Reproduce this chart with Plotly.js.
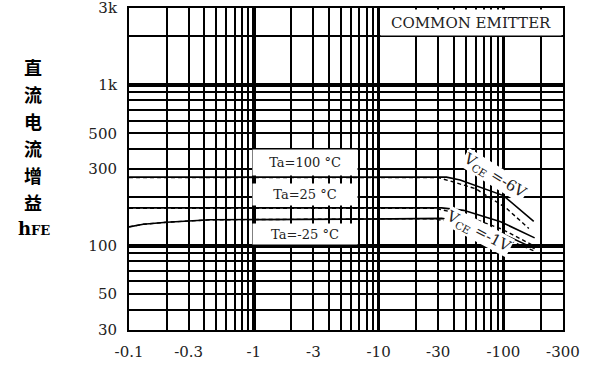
<!DOCTYPE html>
<html><head><meta charset="utf-8">
<script src="https://cdn.plot.ly/plotly-3.0.1.min.js"></script>
<style>html,body{margin:0;padding:0;background:#fff}#chart{width:591px;height:367px}</style>
</head><body><div id="chart"></div>
<script>
// Collector current magnitude (mA); axis labels carry the negative sign
const xTickVals = [0.1, 0.3, 1, 3, 10, 30, 100, 300];
const xTickText = ["-0.1", "-0.3", "-1", "-3", "-10", "-30", "-100", "-300"];
const yTickVals = [30, 50, 100, 300, 500, 1000, 3000];
const yTickText = ["30", "50", "100", "300", "500", "1k", "3k"];
const xDecades = [0.1, 1, 10, 100];
const yDecades = [100, 1000];
const yTitleChars = ["直", "流", "电", "流", "增", "益"];

// Ta = 100 °C
const ic_ta100_v6  = [0.1, 1, 10, 35, 45, 65, 100, 175];
const hfe_ta100_v6 = [267, 267, 267, 267, 256, 232, 205, 142];
const ic_ta100_v1  = [0.1, 1, 10, 30, 40, 60, 105, 160];
const hfe_ta100_v1 = [265, 265, 265, 265, 249, 226, 172, 128];
// Ta = 25 °C
const ic_ta25_v6  = [0.1, 1, 10, 32, 48, 95, 178];
const hfe_ta25_v6 = [172, 172, 172, 172, 166, 141, 112];
const ic_ta25_v1  = [0.1, 1, 10, 28, 45, 97, 175];
const hfe_ta25_v1 = [171, 171, 171, 171, 158, 127, 100];
// Ta = -25 °C
const ic_tam25_v6  = [0.1, 0.13, 0.2, 0.45, 13, 32, 45, 97, 178];
const hfe_tam25_v6 = [131, 136, 140, 145, 147, 148, 142, 119, 96];
const ic_tam25_v1  = [0.1, 0.13, 0.2, 0.45, 13, 28, 45, 97, 175];
const hfe_tam25_v1 = [131, 136, 140, 145, 147, 147, 136, 113, 93];

const SERIF = "DejaVu Serif, Liberation Serif, serif";
const xRange = [Math.log10(0.1) - 0.0005, Math.log10(300) + 0.0005];
const yRange = [Math.log10(30) - 0.0005, Math.log10(3000) + 0.0005];

function curve(x, y, dashed) {
  return {x: x, y: y, type: 'scatter', mode: 'lines', hoverinfo: 'skip',
    line: {color: '#000', width: dashed ? 1.4 : 1.6, dash: dashed ? '4px,3px' : 'solid'}};
}

const data = [
  curve(ic_ta100_v6, hfe_ta100_v6, false),
  curve(ic_ta100_v1, hfe_ta100_v1, true),
  curve(ic_ta25_v6, hfe_ta25_v6, false),
  curve(ic_ta25_v1, hfe_ta25_v1, true),
  curve(ic_tam25_v6, hfe_tam25_v6, false),
  curve(ic_tam25_v1, hfe_tam25_v1, true),
  {x: [], y: [], xaxis: 'x2', yaxis: 'y2', type: 'scatter', mode: 'lines', hoverinfo: 'skip'}
];

const gridAxis = {type: 'log', showgrid: true, gridcolor: '#000', gridwidth: 2,
  minor: {dtick: 'D1', showgrid: true, gridcolor: '#000', gridwidth: 2, ticks: ''},
  showline: true, linecolor: '#000', linewidth: 2, mirror: true, ticks: '', zeroline: false,
  ticklabeloverflow: 'allow',
  tickmode: 'array', tickfont: {family: SERIF, size: 15, color: '#222'}};

// vertical y-axis title, one character per line
const yTitleY = [67, 94, 121, 148, 175, 202];
const titleAnns = yTitleChars.map(function (ch, i) {
  return {xref: 'paper', yref: 'paper', x: -0.221, y: (330 - yTitleY[i]) / 322, xanchor: 'center', yanchor: 'middle',
    text: ch, showarrow: false,
    font: {family: 'Noto Sans CJK SC', size: 18, color: '#000', weight: 'bold'}};
});

const layout = {
  width: 591, height: 367,
  margin: {l: 129, r: 28, t: 8, b: 37, pad: 0},
  paper_bgcolor: '#fff', plot_bgcolor: '#fff', showlegend: false,
  xaxis: Object.assign({}, gridAxis, {range: xRange, tickvals: xTickVals, ticktext: xTickText, ticklabelstandoff: 7}),
  yaxis: Object.assign({}, gridAxis, {range: yRange, tickvals: yTickVals, ticktext: yTickText, ticklabelstandoff: 7}),
  xaxis2: {type: 'log', overlaying: 'x', anchor: 'y2', range: xRange, tickmode: 'array', tickvals: xDecades,
    showticklabels: false, showgrid: true, gridcolor: '#000', gridwidth: 3.5, ticks: '', showline: false, zeroline: false},
  yaxis2: {type: 'log', overlaying: 'y', anchor: 'x2', range: yRange, tickmode: 'array', tickvals: yDecades,
    showticklabels: false, showgrid: true, gridcolor: '#000', gridwidth: 3.5, ticks: '', showline: false, zeroline: false},
  annotations: [
    {xref: 'x', yref: 'y', x: 1.744, y: 3.387, text: 'COMMON EMITTER', showarrow: false,
      width: 180, height: 25, bgcolor: '#fff', borderpad: 0, font: {family: SERIF, size: 15, color: '#222'}},
    {xref: 'x', yref: 'y', x: 0.41, y: 2.517, text: 'Ta=100 °C', showarrow: false,
      width: 104, height: 25, bgcolor: '#fff', borderpad: 0, font: {family: SERIF, size: 13, color: '#222'}},
    {xref: 'x', yref: 'y', x: 0.41, y: 2.316, text: 'Ta=25 °C', showarrow: false,
      width: 104, height: 21, bgcolor: '#fff', borderpad: 0, font: {family: SERIF, size: 13, color: '#222'}},
    {xref: 'x', yref: 'y', x: 0.41, y: 2.072, text: 'Ta=-25 °C', showarrow: false,
      width: 104, height: 20, bgcolor: '#fff', borderpad: 0, font: {family: SERIF, size: 13, color: '#222'}},
    {xref: 'x', yref: 'y', x: 1.925, y: 2.434, text: 'V<sub>CE</sub> =-6V', showarrow: false, textangle: 32,
      bgcolor: '#fff', borderpad: 0, font: {family: SERIF, size: 15, color: '#222'}},
    {xref: 'x', yref: 'y', x: 1.80, y: 2.09, text: 'V<sub>CE</sub> =-1V', showarrow: false, textangle: 28,
      bgcolor: '#fff', borderpad: 0, font: {family: SERIF, size: 15, color: '#222'}},
    {xref: 'paper', yref: 'paper', x: -0.219, y: (330 - 228) / 322, xanchor: 'center', yanchor: 'middle',
      text: "<b>h<span style='font-size:13px'>FE</span></b>", showarrow: false,
      font: {family: SERIF, size: 18, color: '#000'}}
  ].concat(titleAnns)
};

Plotly.newPlot('chart', data, layout, {staticPlot: true, displayModeBar: false});
</script>
</body></html>
